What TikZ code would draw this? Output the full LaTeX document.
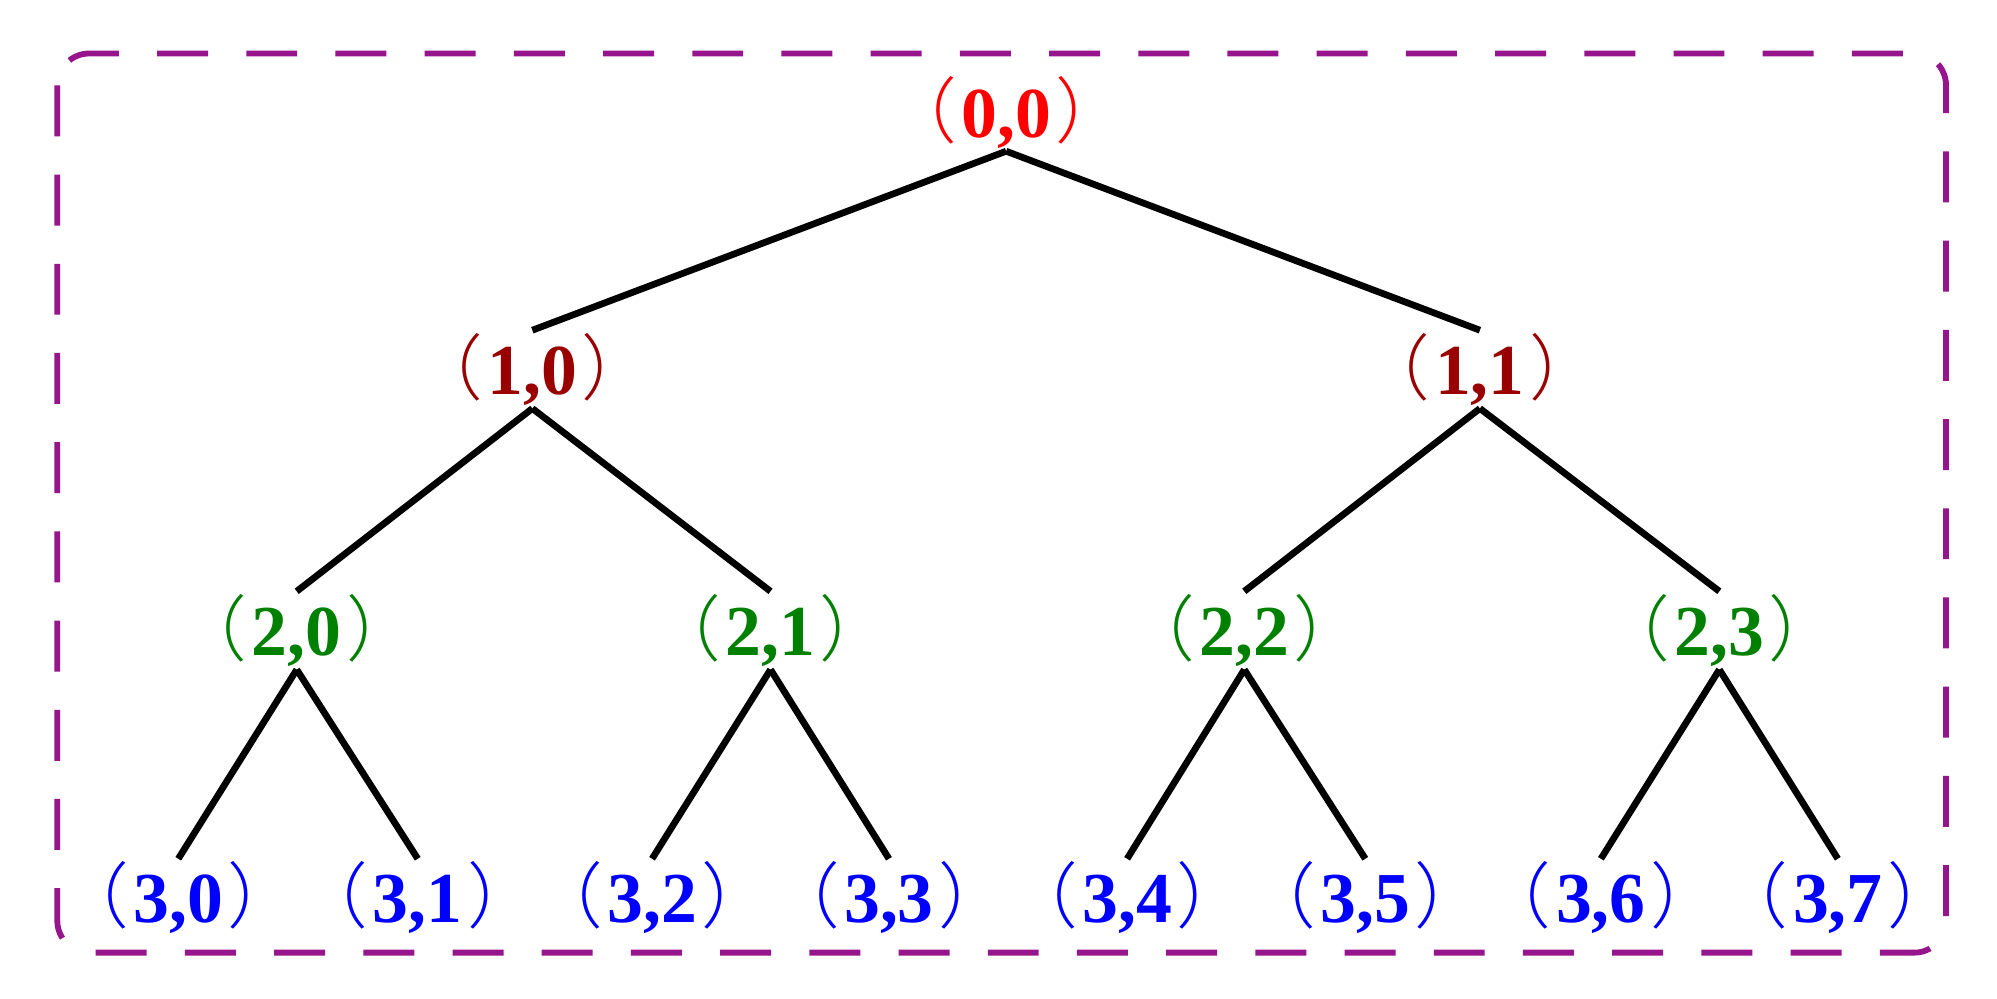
\documentclass[tikz,border=0pt]{standalone}
\usepackage{fontspec}
\setmainfont{Liberation Serif}
\newfontfamily\cjk{Noto Sans CJK SC Light}
\definecolor{frame}{RGB}{150,20,140}
\definecolor{lvA}{RGB}{255,0,0}
\definecolor{lvB}{RGB}{153,0,0}
\definecolor{lvC}{RGB}{0,128,0}
\definecolor{lvD}{RGB}{0,0,255}
\newcommand{\lab}[2]{{\cjk\mdseries（}\kern1pt#1,#2\kern1pt{\cjk\mdseries）}}
\begin{document}
\begin{tikzpicture}[x=0.01cm,y=-0.01cm,
  lbl/.style={font=\fontsize{16}{18}\selectfont\bfseries,minimum height=0.6cm,inner sep=0pt},
  edge/.style={line width=1.5pt}]
\useasboundingbox (0,0) rectangle (1568,784);
\draw[frame,line width=1.3pt,dash pattern=on 0.4cm off 0.3cm,rounded corners=0.25cm] (45,42) rectangle (1528,748);
\node[lbl,lvA] (r) at (790,88) {\lab{0}{0}};
\node[lbl,lvB] (a0) at (418,290) {\lab{1}{0}};
\node[lbl,lvB] (a1) at (1162,290) {\lab{1}{1}};
\foreach \i/\x in {0/233,1/605,2/977,3/1350}
  \node[lbl,lvC] (b\i) at (\x,495) {\lab{2}{\i}};
\foreach \i/\x in {0/140,1/328,2/512,3/698,4/885,5/1072,6/1257,7/1443}
  \node[lbl,lvD] (c\i) at (\x,705) {\lab{3}{\i}};
\draw[edge] (r.south) -- (a0.north);
\draw[edge] (r.south) -- (a1.north);
\draw[edge] (a0.south) -- (b0.north);
\draw[edge] (a0.south) -- (b1.north);
\draw[edge] (a1.south) -- (b2.north);
\draw[edge] (a1.south) -- (b3.north);
\foreach \p/\l/\r in {0/0/1,1/2/3,2/4/5,3/6/7}{
  \draw[edge] (b\p.south) -- (c\l.north);
  \draw[edge] (b\p.south) -- (c\r.north);
}
\end{tikzpicture}
\end{document}
